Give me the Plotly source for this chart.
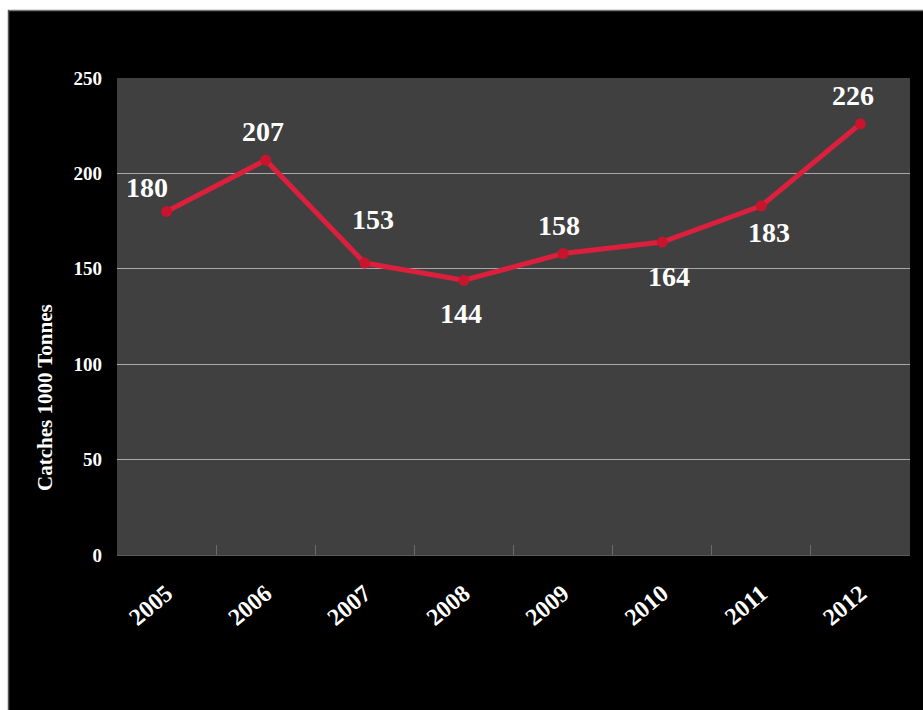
import plotly.graph_objects as go

# Annual catches (thousand tonnes)
years = ["2005", "2006", "2007", "2008", "2009", "2010", "2011", "2012"]
catches = [180, 207, 153, 144, 158, 164, 183, 226]

# Pixel offsets of each value label relative to its point (dx, dy up)
label_offsets = [(-20, 24), (-3, 29), (8, 44), (-3, -33), (-4, 28), (7, -34), (8, -27), (-7, 28)]

FONT = "Liberation Serif, Times New Roman, serif"
RED = "#dc1f3c"

fig = go.Figure()
fig.add_trace(go.Scatter(
    x=years, y=catches, mode="lines+markers",
    line=dict(color=RED, width=5),
    marker=dict(color="#c8142c", size=11, symbol="circle"),
    hoverinfo="x+y", showlegend=False,
))

annotations = []
for i, (val, (dx, dy)) in enumerate(zip(catches, label_offsets)):
    # category index keeps numeric-looking year names from being read as coordinates
    annotations.append(dict(
        x=i, y=val, xref="x", yref="y", text=f"<b>{val}</b>", showarrow=False,
        xshift=dx, yshift=dy, font=dict(family=FONT, size=28, color="white"),
    ))

# vertical axis title
annotations.append(dict(
    x=(45 - 117) / 793, y=(555 - 398) / 477, xref="paper", yref="paper",
    xanchor="center", yanchor="middle",
    text="<b>Catches 1000 Tonnes</b>", textangle=-90, showarrow=False,
    font=dict(family=FONT, size=21, color="white"),
))

shapes = [
    # white frame strips on top and left edges
    dict(type="rect", xref="paper", yref="paper", x0=-0.2, x1=1.1,
         y0=(555 - 10) / 477, y1=(555 + 10) / 477,
         fillcolor="white", line=dict(width=0), layer="above"),
    dict(type="rect", xref="paper", yref="paper", x0=-0.2, x1=(8 - 117) / 793,
         y0=-0.4, y1=1.2, fillcolor="white", line=dict(width=0), layer="above"),
    dict(type="line", xref="paper", yref="paper", x0=(8 - 117) / 793, x1=1.1,
         y0=(555 - 10.5) / 477, y1=(555 - 10.5) / 477,
         line=dict(color="#777777", width=1.5), layer="above"),
    dict(type="line", xref="paper", yref="paper", x0=(8.5 - 117) / 793, x1=(8.5 - 117) / 793,
         y0=-0.4, y1=(555 - 10) / 477,
         line=dict(color="#555555", width=1.5), layer="above"),
]

fig.update_layout(
    width=923, height=710,
    margin=dict(l=117, r=13, t=78, b=155, autoexpand=False),
    paper_bgcolor="black", plot_bgcolor="#404040",
    annotations=annotations, shapes=shapes,
    xaxis=dict(
        type="category", tickangle=-40, showgrid=False,
        tickfont=dict(family=FONT, size=24, color="white", weight="bold"),
        ticks="inside", tickson="boundaries", ticklen=10, tickcolor="#6a6a6a",
        showline=True, linecolor="#5a5a5a", linewidth=1, zeroline=False,
        range=[-0.5, 7.5], ticklabelstandoff=14,
    ),
    yaxis=dict(
        range=[0, 250], dtick=50, showgrid=True, gridcolor="#a8a8a8", gridwidth=1,
        zeroline=False, ticks="", ticklabelstandoff=14,
        tickfont=dict(family=FONT, size=19, color="white", weight="bold"),
    ),
)

fig.write_html("out.html")
